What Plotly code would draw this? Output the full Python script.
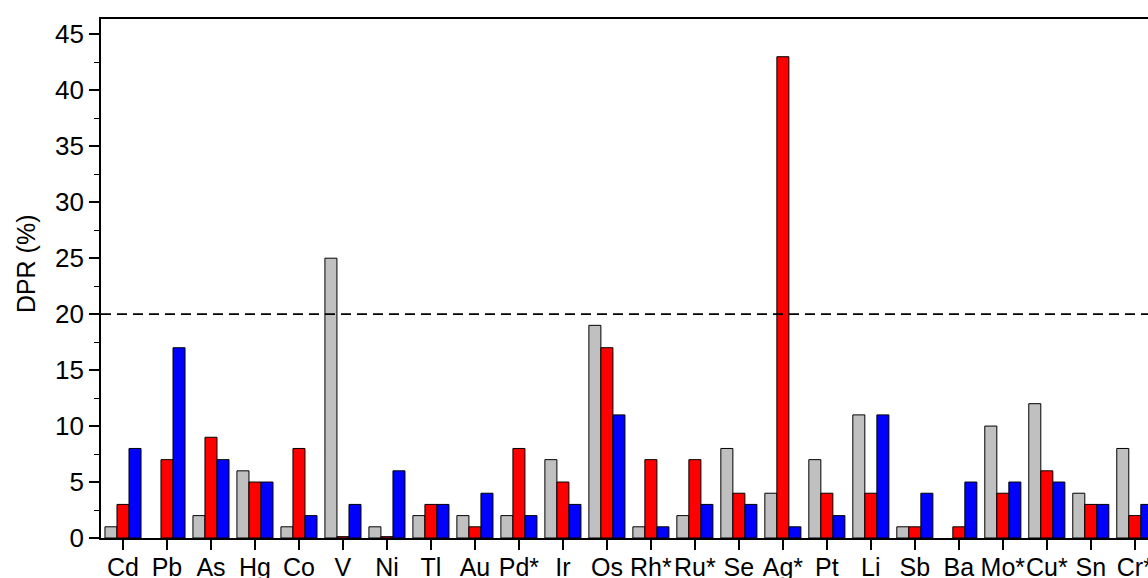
import plotly.graph_objects as go

categories = ["Cd", "Pb", "As", "Hg", "Co", "V", "Ni", "Tl", "Au", "Pd*", "Ir", "Os",
              "Rh*", "Ru*", "Se", "Ag*", "Pt", "Li", "Sb", "Ba", "Mo*", "Cu*", "Sn", "Cr*"]
grey_vals = [1, None, 2, 6, 1, 25, 1, 2, 2, 2, 7, 19, 1, 2, 8, 4, 7, 11, 1, None, 10, 12, 4, 8]
red_vals = [3, 7, 9, 5, 8, 0.12, 0.12, 3, 1, 8, 5, 17, 7, 7, 4, 43, 4, 4, 1, 1, 4, 6, 3, 2]
blue_vals = [8, 17, 7, 5, 2, 3, 6, 3, 4, 2, 3, 11, 1, 3, 3, 1, 2, 11, 4, 5, 5, 5, 3, 3]
threshold = 20

FONT = "Arial, Liberation Sans, sans-serif"
x_idx = list(range(len(categories)))

fig = go.Figure()
for vals, col in [(grey_vals, "#C0C0C0"), (red_vals, "#FF0000"), (blue_vals, "#0000FF")]:
    fig.add_trace(go.Bar(x=x_idx, y=vals, marker=dict(color=col, line=dict(color="#000000", width=1)),
                         showlegend=False))

fig.add_shape(type="line", xref="paper", x0=0, x1=1, yref="y", y0=threshold, y1=threshold,
              line=dict(color="black", width=1.6, dash="10px,6px"))

fig.add_annotation(text="DPR (%)", xref="paper", yref="paper", x=-0.0715, y=0.528,
                   showarrow=False, textangle=-90, font=dict(family=FONT, size=25, color="black"),
                   xanchor="center", yanchor="middle")

fig.update_layout(
    width=1148, height=578, autosize=False,
    margin=dict(l=101, r=0, t=19, b=40),
    paper_bgcolor="white", plot_bgcolor="white",
    barmode="group", bargap=0.18, bargroupgap=0,
    font=dict(family=FONT, size=25, color="black"),
    xaxis=dict(range=[-0.5, 23.3], tickmode="array", tickvals=x_idx, ticktext=categories,
               showline=True, linecolor="black", linewidth=1.6, mirror=True,
               ticks="outside", ticklen=10, tickwidth=1.6, tickcolor="black",
               ticklabeloverflow="allow", tickangle=0, automargin=False, ticklabelstandoff=-4,
               showgrid=False, zeroline=False, tickfont=dict(family=FONT, size=25)),
    yaxis=dict(range=[0, 46.37], tickvals=[0, 5, 10, 15, 20, 25, 30, 35, 40, 45],
               showline=True, linecolor="black", linewidth=1.6, mirror=False,
               ticks="outside", ticklen=10, tickwidth=1.6, tickcolor="black", automargin=False,
               minor=dict(dtick=2.5, ticks="outside", ticklen=5, tickwidth=1.4, tickcolor="black", showgrid=False),
               showgrid=False, zeroline=False, tickfont=dict(family=FONT, size=26)),
)

fig.write_html("out.html")
